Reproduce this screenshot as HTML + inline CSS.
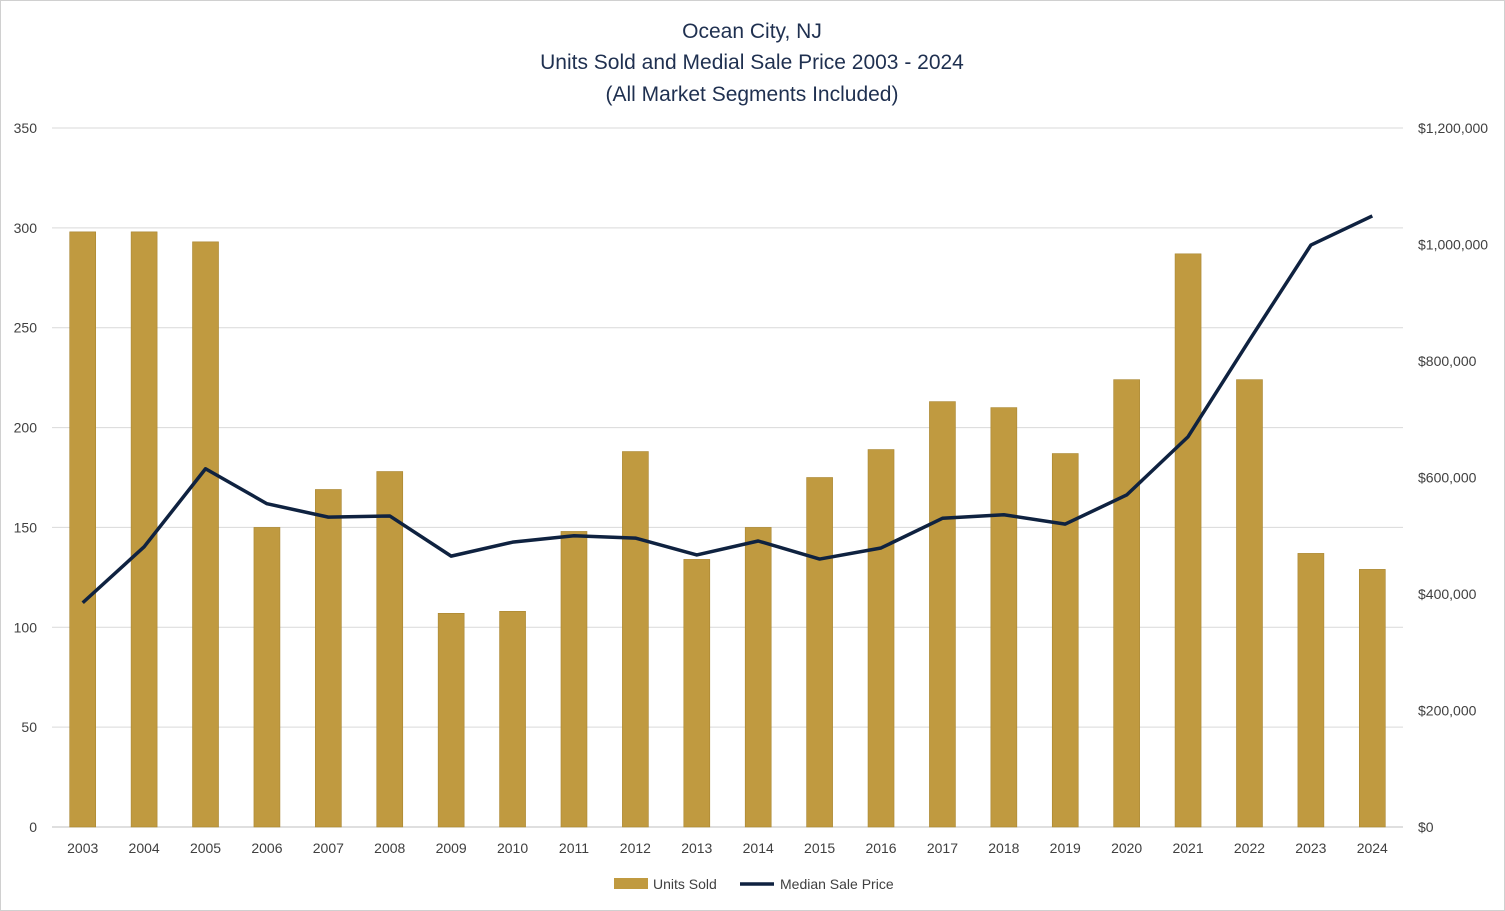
<!DOCTYPE html>
<html><head><meta charset="utf-8"><style>
html,body{margin:0;padding:0;background:#fff;}
svg{display:block;font-family:"Liberation Sans",sans-serif;}
</style></head><body>
<svg id="chart" width="1505" height="911" viewBox="0 0 1505 911">
<rect x="0.5" y="0.5" width="1504" height="910" fill="#fff" stroke="#d0d0d0"/>
<g fill="#1f3050" font-size="21" text-anchor="middle">
<text x="752" y="38">Ocean City, NJ</text>
<text x="752" y="69">Units Sold and Medial Sale Price 2003 - 2024</text>
<text x="752" y="101">(All Market Segments Included)</text>
</g>
<g id="grid"></g>
<g id="bars"></g>
<g id="line"></g>
<g id="ticks" fill="#404040" font-size="14"></g>
<g font-size="14" fill="#404040">
<rect x="614" y="878" width="34" height="11" fill="#c09a40"/>
<text x="653" y="889">Units Sold</text>
<line x1="740" y1="884" x2="774" y2="884" stroke="#0f2240" stroke-width="3.5"/>
<text x="780" y="889">Median Sale Price</text>
</g>
</svg>
<script>
const years=["2003","2004","2005","2006","2007","2008","2009","2010","2011","2012","2013","2014","2015","2016","2017","2018","2019","2020","2021","2022","2023","2024"];
const unitsSold=[298,298,293,150,169,178,107,108,148,188,134,150,175,189,213,210,187,224,287,224,137,129];
const medianPrice=[385000,481000,615000,555000,532000,534000,465000,489000,500000,496000,467000,491000,460000,479000,530000,536000,520000,570000,670000,836000,999000,1049000];
const leftTicks=[0,50,100,150,200,250,300,350];
const rightTicks=[0,200000,400000,600000,800000,1000000,1200000];
const NS="http://www.w3.org/2000/svg";
const X0=52,X1=1403,Y0=827,Y1=128;
const bw=(X1-X0)/years.length;
const xc=i=>X0+bw*(i+0.5);
const yL=v=>Y0-(v/350)*(Y0-Y1);
const yR=v=>Y0-(v/1200000)*(Y0-Y1);
function mk(t,a){const e=document.createElementNS(NS,t);for(const k in a)e.setAttribute(k,a[k]);return e;}
const grid=document.getElementById('grid'),bars=document.getElementById('bars'),line=document.getElementById('line'),ticks=document.getElementById('ticks');
leftTicks.forEach(v=>{
 const g=mk('line',{x1:X0,x2:X1,y1:yL(v),y2:yL(v),stroke:v===0?'#bfbfbf':'#d9d9d9','stroke-width':1});
 
 
 grid.appendChild(g);
 const t=mk('text',{x:37,y:yL(v)+5,'text-anchor':'end'});t.textContent=v;
 
 
 ticks.appendChild(t);
});
rightTicks.forEach(v=>{
 const t=mk('text',{x:1418,y:yR(v)+5,'text-anchor':'start'});t.textContent='$'+v.toLocaleString('en-US');
 
 
 ticks.appendChild(t);
});
years.forEach((y,i)=>{
 const b=mk('rect',{x:xc(i)-13,y:yL(unitsSold[i]),width:26,height:Y0-yL(unitsSold[i]),fill:'#c09a40',stroke:'#a88530','stroke-width':0.6});
 
 
 bars.appendChild(b);
 const t=mk('text',{x:xc(i),y:853,'text-anchor':'middle'});t.textContent=y;
 
 
 ticks.appendChild(t);
});
const pts=medianPrice.map((v,i)=>xc(i)+','+yR(v)).join(' ');
const pl=mk('polyline',{points:pts,fill:'none',stroke:'#0f2240','stroke-width':3.5,'stroke-linejoin':'round'});


line.appendChild(pl);
</script>
</body></html>
